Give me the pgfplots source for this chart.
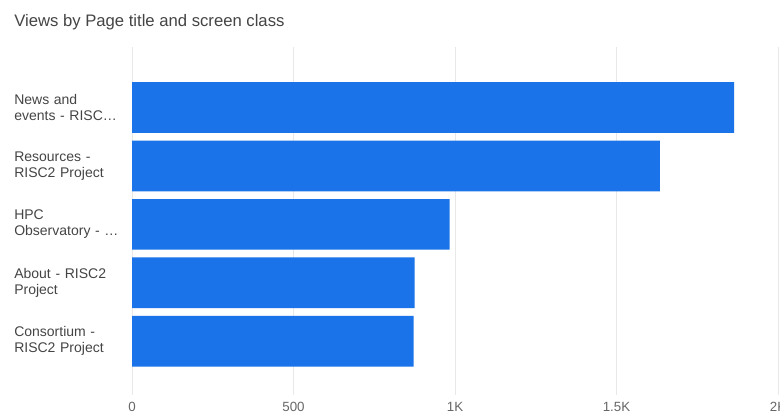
\documentclass[border=0pt]{standalone}
\usepackage{pgfplots}
\pgfplotsset{compat=1.18}
\usepackage{fontspec}
\setmainfont{Liberation Sans}
\definecolor{barblue}{HTML}{1A73E8}
\definecolor{gridgray}{HTML}{E8E8E8}
\definecolor{txtgray}{HTML}{444444}
\definecolor{ticktxt}{HTML}{666666}
\begin{document}
\begin{tikzpicture}
\useasboundingbox (0,0) rectangle (585pt,310.5pt);
\node[anchor=west,inner sep=0pt,text=txtgray,font=\fontsize{12.5}{14}\selectfont] at (10.5pt,294pt) {Views by Page title and screen class};
\begin{axis}[
  at={(99pt,14.25pt)}, anchor=south west,
  scale only axis,
  width=484.5pt, height=261pt,
  xbar, bar width=38pt,
  xmin=0, xmax=2000,
  y dir=reverse,
  ymin=-1.036, ymax=4.92,
  ytick={0,1,2,3,4},
  yticklabels={{News and\\events - RISC\ldots},{Resources -\\RISC2 Project},{HPC\\Observatory - \ldots},{About - RISC2\\Project},{Consortium -\\RISC2 Project}},
  yticklabel style={anchor=west, inner sep=0pt, xshift=-88.5pt, align=left, text width=88pt, font=\fontsize{10.5}{12}\selectfont, text=txtgray},
  xtick={0,500,1000,1500,2000},
  xticklabels={0,500,1K,1.5K,2K},
  xticklabel style={anchor=north, inner sep=0pt, font=\fontsize{10}{12}\selectfont, text=ticktxt, yshift=-5pt},
  xmajorgrids, major grid style={gridgray, line width=0.6pt},
  axis line style={draw=none},
  major tick length=0pt,
  clip=false,
]
\addplot[fill=barblue, draw=none] coordinates {(1864,0) (1634,1) (983,2) (875,3) (872,4)};
\end{axis}
\end{tikzpicture}
\end{document}
